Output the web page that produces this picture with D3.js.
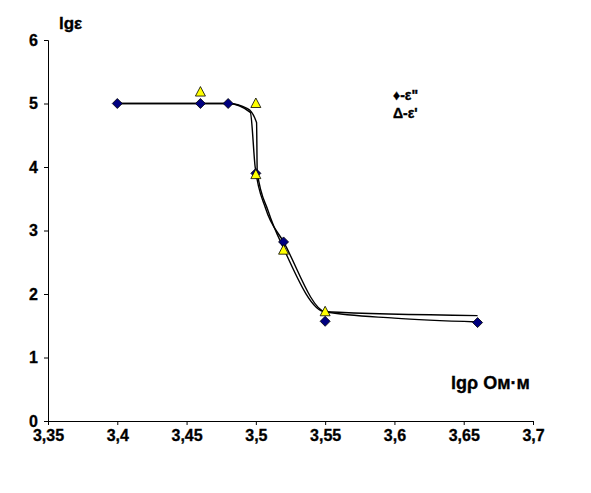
<!DOCTYPE html>
<html>
<head>
<meta charset="utf-8">
<script src="https://cdn.jsdelivr.net/npm/d3@7"></script>
<style>
  body { margin: 0; background: #fff; }
  text { font-family: "Liberation Sans", Arial, sans-serif; font-weight: bold; fill: #000; }
</style>
</head>
<body>
<svg id="chart" width="591" height="493"></svg>
<script>
// markers
const epsPP = [[3.40, 5.0], [3.46, 5.0], [3.48, 5.0], [3.50, 3.9], [3.52, 2.82], [3.55, 1.57], [3.66, 1.55]]
const epsP = [[3.46, 5.18], [3.50, 5.0], [3.50, 3.88], [3.52, 2.69], [3.55, 1.72]]
// hand-smoothed curves
const curveA = [[3.40, 5.0], [3.46, 5.0], [3.48, 5.0], [3.496, 4.86], [3.4995, 4.0], [3.507, 3.35], [3.52, 2.82], [3.55, 1.72], [3.60, 1.62], [3.66, 1.56]]
const curveB = [[3.40, 5.0], [3.48, 5.0], [3.494, 4.92], [3.5005, 4.7], [3.501, 3.92], [3.509, 3.3], [3.52, 2.72], [3.55, 1.72], [3.66, 1.66]]
const xTicks = [3.35, 3.4, 3.45, 3.5, 3.55, 3.6, 3.65, 3.7]
const yTicks = [0, 1, 2, 3, 4, 5, 6]

const svg = d3.select('#chart')
const x = d3.scaleLinear().domain([3.35, 3.7]).range([48, 533])
const y = d3.scaleLinear().domain([0, 6]).range([421, 40])

const fmt = d => String(d).replace('.', ',')

const xAxis = svg.append('g')
    .attr('transform', `translate(0,${y(0)})`)
    .call(d3.axisBottom(x).tickValues(xTicks).tickFormat(fmt).tickSize(4).tickPadding(5))
const yAxis = svg.append('g')
    .attr('transform', `translate(${x(3.35)},0)`)
    .call(d3.axisLeft(y).tickValues(yTicks).tickFormat(d3.format('d')).tickSize(4).tickPadding(6))

for (let ax of [xAxis, yAxis]) {
    ax.select('.domain').attr('stroke', '#000')
    ax.selectAll('line').attr('stroke', '#000')
    ax.selectAll('text')
        .style('font-size', '16px')
        .style('font-family', '"Liberation Sans", Arial, sans-serif')
        .style('font-weight', 'bold')
        .attr('stroke', '#000').attr('stroke-width', 0.3)
}

const line = d3.line()
    .x(d => x(d[0]))
    .y(d => y(d[1]))
    .curve(d3.curveMonotoneX)

svg.selectAll('path.curve')
    .data([curveA, curveB])
    .join('path')
    .attr('class', 'curve')
    .attr('d', line)
    .attr('fill', 'none')
    .attr('stroke', '#000')
    .attr('stroke-width', 1.4)

svg.selectAll('path.dia')
    .data(epsPP)
    .join('path')
    .attr('class', 'dia')
    .attr('d', 'M0,-5L5,0L0,5L-5,0Z')
    .attr('transform', d => `translate(${x(d[0])},${y(d[1])})`)
    .attr('fill', '#000080')
    .attr('stroke', '#000')
    .attr('stroke-width', 0.8)

svg.selectAll('path.tri')
    .data(epsP)
    .join('path')
    .attr('class', 'tri')
    .attr('d', 'M0,-5.5L5,4L-5,4Z')
    .attr('transform', d => `translate(${x(d[0])},${y(d[1])})`)
    .attr('fill', '#ffff00')
    .attr('stroke', '#000')
    .attr('stroke-width', 0.8)

const label = (tx, ty, size, str) => svg.append('text')
    .attr('x', tx).attr('y', ty)
    .style('font-size', size)
    .attr('stroke', '#000').attr('stroke-width', 0.35)
    .text(str)

label(59, 29, '17px', 'lgε')
label(451, 389, '18px', 'lgρ Ом·м')
label(393, 100, '14px', '♦-ε"')
label(393, 118, '14px', "Δ-ε'")
</script>
</body>
</html>
